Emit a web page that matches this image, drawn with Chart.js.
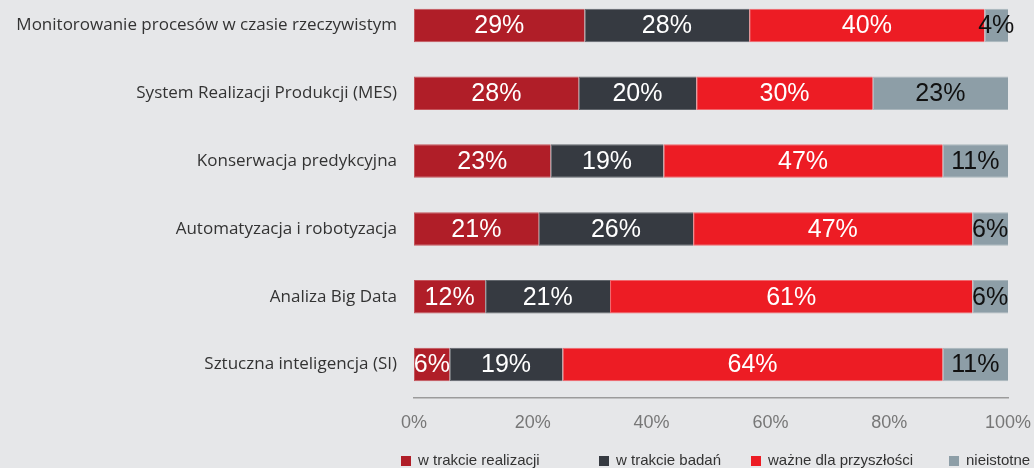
<!DOCTYPE html>
<html>
<head>
<meta charset="utf-8">
<script src="https://cdn.jsdelivr.net/npm/chart.js@4"></script>
<style>
  body { margin: 0; background: #e6e7e9; }
  #wrap { width: 1034px; height: 468px; }
</style>
</head>
<body>
<div id="wrap"><canvas id="chart"></canvas></div>
<script>
const categories = [
  'Monitorowanie procesów w czasie rzeczywistym',
  'System Realizacji Produkcji (MES)',
  'Konserwacja predykcyjna',
  'Automatyzacja i robotyzacja',
  'Analiza Big Data',
  'Sztuczna inteligencja (SI)'
];
const seriesNames = ['w trakcie realizacji', 'w trakcie badań', 'ważne dla przyszłości', 'nieistotne'];
const realizacja = [29, 28, 23, 21, 12, 6];
const badania = [28, 20, 19, 26, 21, 19];
const przyszlosc = [40, 30, 47, 47, 61, 64];
const nieistotne = [4, 23, 11, 6, 6, 11];
const xTicks = [0, 20, 40, 60, 80, 100];

const series = [realizacja, badania, przyszlosc, nieistotne];
const colors = ['#b01e28', '#363a41', '#ed1c24', '#8d9ea7'];
const edgeColors = ['#c4545b', '#62666c', '#f0676c', '#aab6bc'];
const labelColors = ['#ffffff', '#ffffff', '#ffffff', '#111111'];

// some rows add up to 101, the chart is 100% stacked so scale each row
const rowSums = categories.map((c, i) => series.reduce((s, arr) => s + arr[i], 0));

const background = {
  id: 'background',
  beforeDraw(chart) {
    const ctx = chart.ctx;
    ctx.save();
    ctx.fillStyle = '#e6e7e9';
    ctx.fillRect(0, 0, chart.width, chart.height);
    ctx.restore();
  }
};

const valueLabels = {
  id: 'valueLabels',
  afterDatasetsDraw(chart) {
    const ctx = chart.ctx;
    ctx.save();
    ctx.font = '25px "Liberation Sans", Arial, sans-serif';
    ctx.textAlign = 'center';
    ctx.textBaseline = 'middle';
    chart.data.datasets.forEach((ds, k) => {
      chart.getDatasetMeta(k).data.forEach((bar, i) => {
        ctx.fillStyle = labelColors[k];
        ctx.fillText(series[k][i] + '%', (bar.x + bar.base) / 2, bar.y + 1);
      });
    });
    ctx.restore();
  }
};

// legend sits in fixed columns under the chart
const legendX = [401, 599, 751, 949];
const bottomLegend = {
  id: 'bottomLegend',
  afterDraw(chart) {
    const ctx = chart.ctx;
    ctx.save();
    ctx.font = '15px "Liberation Sans", Arial, sans-serif';
    ctx.textBaseline = 'middle';
    chart.data.datasets.forEach((ds, k) => {
      ctx.fillStyle = ds.backgroundColor;
      ctx.fillRect(legendX[k], 456, 10, 10);
      ctx.fillStyle = '#333333';
      ctx.fillText(ds.label, legendX[k] + 17, 461);
    });
    ctx.restore();
  }
};

new Chart(document.getElementById('chart'), {
  type: 'bar',
  data: {
    datasets: series.map((arr, k) => ({
      label: seriesNames[k],
      data: arr.map((v, i) => ({ x: v / rowSums[i] * 100, y: i })),
      backgroundColor: colors[k],
      borderColor: edgeColors[k],
      borderWidth: { top: 1, bottom: 1, left: 1, right: 0 },
      borderSkipped: false,
      barPercentage: 0.494,
      categoryPercentage: 1
    }))
  },
  options: {
    indexAxis: 'y',
    responsive: true,
    maintainAspectRatio: false,
    animation: false,
    layout: { padding: { top: 0, right: 26, bottom: 0, left: 0 } },
    plugins: {
      legend: { display: false },
      tooltip: { enabled: false }
    },
    scales: {
      x: {
        min: 0,
        max: 100,
        stacked: true,
        afterBuildTicks: s => { s.ticks = xTicks.map(v => ({ value: v })); },
        grid: { display: false, drawTicks: false },
        border: { display: true, color: '#9b9b9b', width: 1.5 },
        ticks: {
          callback: v => v + '%',
          color: '#777777',
          font: { family: 'Liberation Sans', size: 18 },
          padding: 14,
          maxRotation: 0
        },
        afterFit: s => { s.height = 70; s.paddingLeft = 0; s.paddingRight = 0; }
      },
      y: {
        type: 'linear',
        reverse: true,
        bounds: 'data',
        offset: false,
        min: -0.376,
        max: 5.494,
        stacked: true,
        afterDataLimits: s => { s.min = -0.376; s.max = 5.494; },
        afterBuildTicks: s => { s.ticks = categories.map((c, i) => ({ value: i })); },
        grid: { display: false, drawTicks: false },
        border: { display: false },
        ticks: {
          callback: v => categories[v],
          autoSkip: false,
          color: '#333333',
          font: { family: 'Open Sans', size: 17 },
          padding: 17
        },
        afterFit: s => { s.width = 414; s.paddingTop = 0; s.paddingBottom = 0; }
      }
    }
  },
  plugins: [background, valueLabels, bottomLegend]
});
</script>
</body>
</html>
